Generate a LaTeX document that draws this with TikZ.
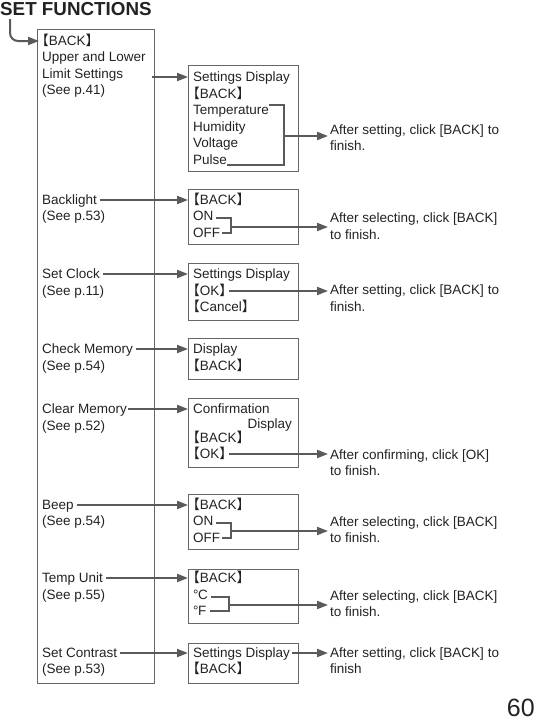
\documentclass[tikz,border=0pt]{standalone}
\usepackage{fontspec}
\setmainfont{Liberation Sans}
\newfontfamily\cjk[RawFeature=+halt]{Noto Sans CJK JP}
\usetikzlibrary{arrows.meta}
\newcommand{\lbk}{{\cjk【}}
\newcommand{\rbk}{{\cjk】}}
\definecolor{linegray}{HTML}{5A5A5A}
\definecolor{framegray}{HTML}{666666}
\definecolor{inkgray}{HTML}{222222}
\tikzset{
  ln/.style={inner sep=0pt, anchor=west, text height=9.7pt, text depth=0pt,
    font=\fontsize{13.5}{16}\selectfont, text=inkgray},
  panel/.style={draw=framegray, line width=1.1pt, anchor=north west, inner sep=0pt},
  arr/.style={draw=linegray, line width=2pt, -{Triangle[length=11pt,width=8pt]}},
  brk/.style={draw=linegray, line width=2pt},
}
\begin{document}
\begin{tikzpicture}[x=1pt,y=-1pt]
    \useasboundingbox (0,0) rectangle (537,720);

    \node[anchor=base west, inner sep=0pt, font=\fontsize{18.8}{20}\selectfont\bfseries, text=inkgray] (title) at (0,15) {SET FUNCTIONS};
    \node[anchor=base east, inner sep=0pt, font=\fontsize{25}{28}\selectfont, text=inkgray] (page) at (535,716) {60};

    % menu column
    \node[panel, minimum width=117pt, minimum height=654pt] (menu) at (37,29) {};
    \node[ln] (lBack) at (42,41) {\lbk BACK\rbk};
    \node[ln] (lUpper) at (42,57) {Upper and Lower};
    \node[ln] (lLimit) at (42,74) {Limit Settings};
    \node[ln] (lSee1) at (42,90) {(See p.41)};
    \node[ln] (lBacklight) at (42,200) {Backlight};
    \node[ln] (lSee2) at (42,216) {(See p.53)};
    \node[ln] (lClock) at (42,274) {Set Clock};
    \node[ln] (lSee3) at (42,291) {(See p.11)};
    \node[ln] (lCheck) at (42,349) {Check Memory};
    \node[ln] (lSee4) at (42,366) {(See p.54)};
    \node[ln] (lClear) at (42,409) {Clear Memory};
    \node[ln] (lSee5) at (42,426) {(See p.52)};
    \node[ln] (lBeep) at (42,505) {Beep};
    \node[ln] (lSee6) at (42,521) {(See p.54)};
    \node[ln] (lTemp) at (42,578) {Temp Unit};
    \node[ln] (lSee7) at (42,595) {(See p.55)};
    \node[ln] (lContrast) at (42,653) {Set Contrast};
    \node[ln] (lSee8) at (42,669) {(See p.53)};

    % screens
    \node[panel, minimum width=110pt, minimum height=106pt] (bA) at (188,65) {};
    \node[panel, minimum width=110pt, minimum height=55pt] (bB) at (188,189) {};
    \node[panel, minimum width=110pt, minimum height=57pt] (bC) at (188,263) {};
    \node[panel, minimum width=110pt, minimum height=41pt] (bD) at (188,338) {};
    \node[panel, minimum width=110pt, minimum height=69pt] (bE) at (188,398) {};
    \node[panel, minimum width=110pt, minimum height=55pt] (bF) at (188,494) {};
    \node[panel, minimum width=110pt, minimum height=54pt] (bG) at (188,569) {};
    \node[panel, minimum width=110pt, minimum height=40pt] (bH) at (188,643) {};

    \node[ln] (tSdA) at (193,77) {Settings Display};
    \node[ln] (tBackA) at (193,94) {\lbk BACK\rbk};
    \node[ln] (tTemp) at (193,110) {Temperature};
    \node[ln] (tHum) at (193,127) {Humidity};
    \node[ln] (tVolt) at (193,143) {Voltage};
    \node[ln] (tPulse) at (193,160) {Pulse};

    \node[ln] (tBackB) at (193,200) {\lbk BACK\rbk};
    \node[ln] (tOnB) at (193,216) {ON};
    \node[ln] (tOffB) at (193,233) {OFF};

    \node[ln] (tSdC) at (193,274) {Settings Display};
    \node[ln] (tOkC) at (193,291) {\lbk OK\rbk};
    \node[ln] (tCancel) at (193,307) {\lbk Cancel\rbk};

    \node[ln] (tDispD) at (193,349) {Display};
    \node[ln] (tBackD) at (193,366) {\lbk BACK\rbk};

    \node[ln] (tConf) at (193,409) {Confirmation};
    \node[ln, anchor=east] (tDispE) at (292,424) {Display};
    \node[ln] (tBackE) at (193,438) {\lbk BACK\rbk};
    \node[ln] (tOkE) at (193,454) {\lbk OK\rbk};

    \node[ln] (tBackF) at (193,505) {\lbk BACK\rbk};
    \node[ln] (tOnF) at (193,521) {ON};
    \node[ln] (tOffF) at (193,538) {OFF};

    \node[ln] (tBackG) at (193,578) {\lbk BACK\rbk};
    \node[ln] (tCel) at (193,595) {°\kern-0.5pt C};
    \node[ln] (tFah) at (193,611) {°\kern-0.5pt F};

    \node[ln] (tSdH) at (193,653) {Settings Display};
    \node[ln] (tBackH) at (193,669) {\lbk BACK\rbk};

    % notes
    \node[ln] (nA1) at (330,130) {After setting, click [BACK] to};
    \node[ln] (nA2) at (330,146) {finish.};
    \node[ln] (nB1) at (330,218) {After selecting, click [BACK]};
    \node[ln] (nB2) at (330,235) {to finish.};
    \node[ln] (nC1) at (330,290) {After setting, click [BACK] to};
    \node[ln] (nC2) at (330,307) {finish.};
    \node[ln] (nE1) at (330,455) {After confirming, click [OK]};
    \node[ln] (nE2) at (330,471) {to finish.};
    \node[ln] (nF1) at (330,522) {After selecting, click [BACK]};
    \node[ln] (nF2) at (330,538) {to finish.};
    \node[ln] (nG1) at (330,596) {After selecting, click [BACK]};
    \node[ln] (nG2) at (330,612) {to finish.};
    \node[ln] (nH1) at (330,653) {After setting, click [BACK] to};
    \node[ln] (nH2) at (330,669) {finish};

    \coordinate (s1) at (152,77);
    \coordinate (kA) at (284,136);
    \coordinate (kB) at (231,227);
    \coordinate (kF) at (231,531);
    \coordinate (kG) at (229,605);

    % menu to screens
    \draw[arr, rounded corners=8pt, shorten >=3pt] ([xshift=10pt, yshift=-4pt]title.base west) |- (lBack.west);
    \draw[arr] (s1) -- (s1 -| bA.west);
    \draw[arr] ([xshift=3pt]lBacklight.east) -- (lBacklight -| bB.west);
    \draw[arr] ([xshift=3pt]lClock.east) -- (lClock -| bC.west);
    \draw[arr] ([xshift=3pt]lCheck.east) -- (lCheck -| bD.west);
    \draw[arr] ([xshift=1pt]lClear.east) -- (lClear -| bE.west);
    \draw[arr] ([xshift=3pt]lBeep.east) -- (lBeep -| bF.west);
    \draw[arr] ([xshift=3pt]lTemp.east) -- (lTemp -| bG.west);
    \draw[arr] ([xshift=3pt]lContrast.east) -- (lContrast -| bH.west);

    % screens to notes
    \draw[brk] (tTemp.north east) -| (kA) |- (tPulse.south east);
    \draw[arr, shorten >=2pt] (kA) -- (kA -| nA1.west);
    \draw[brk] ([xshift=2pt, yshift=-2pt]tOnB.east) -| (kB) |- ([xshift=2pt]tOffB.east);
    \draw[arr, shorten >=2pt] (kB) -- (kB -| nB1.west);
    \draw[arr, shorten >=2pt] ([xshift=3pt]tOkC.east) -- (tOkC -| nC1.west);
    \draw[arr, shorten >=2pt] ([xshift=3pt]tOkE.east) -- (tOkE -| nE1.west);
    \draw[brk] ([xshift=2pt, yshift=-2pt]tOnF.east) -| (kF) |- ([xshift=2pt]tOffF.east);
    \draw[arr, shorten >=2pt] (kF) -- (kF -| nF1.west);
    \draw[brk] ([xshift=3pt, yshift=-2pt]tCel.east) -| (kG) |- ([xshift=3pt]tFah.east);
    \draw[arr, shorten >=2pt] (kG) -- (kG -| nG1.west);
    \draw[arr, shorten >=2pt] ([xshift=2pt]tSdH.east) -- (tSdH -| nH1.west);
\end{tikzpicture}
\end{document}
